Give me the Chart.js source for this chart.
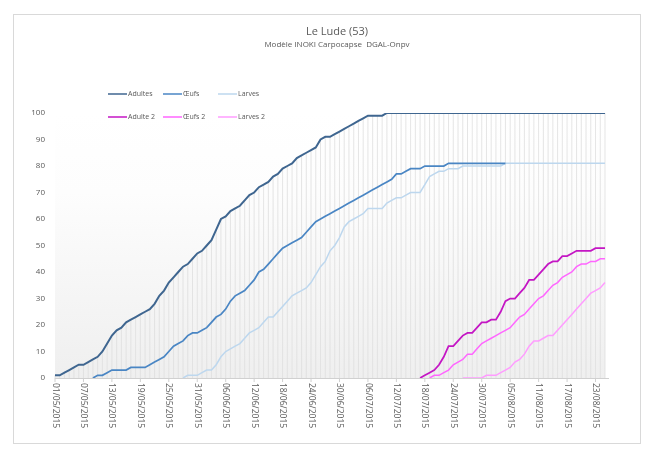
<!DOCTYPE html>
<html>
<head>
<meta charset="utf-8">
<script src="https://cdn.jsdelivr.net/npm/chart.js@4"></script>
<style>
  html, body { margin: 0; padding: 0; background: #fff; }
  #wrap { width: 654px; height: 451px; }
</style>
</head>
<body>
<div id="wrap"><canvas id="ludeChart" width="654" height="451"></canvas></div>
<script>
// days from 01/05/2015 to 25/08/2015
const categories = [];
for (let d = new Date(2015, 4, 1); d <= new Date(2015, 7, 25); d.setDate(d.getDate() + 1)) {
  const dd = String(d.getDate()).padStart(2, '0');
  const mm = String(d.getMonth() + 1).padStart(2, '0');
  categories.push(dd + '/' + mm + '/2015');
}
const labelEvery = 6;

const seriesNames = ["Adultes", "Œufs", "Larves", "Adulte 2", "Œufs 2", "Larves 2"];
const seriesColors = ["#3f6690", "#4a86c4", "#bdd7ee", "#c416c4", "#ff66ff", "#ff9cff"];
const seriesWidths = [2, 1.75, 1.5, 1.75, 1.5, 1.5];

// start index (day) of every series
const adultesStart = 0;
const adultes = [1, 1, 2, 3, 4, 5, 5, 6, 7, 8,
  10, 13, 16, 18, 19, 21, 22, 23, 24, 25,
  26, 28, 31, 33, 36, 38, 40, 42, 43, 45,
  47, 48, 50, 52, 56, 60, 61, 63, 64, 65,
  67, 69, 70, 72, 73, 74, 76, 77, 79, 80,
  81, 83, 84, 85, 86, 87, 90, 91, 91, 92,
  93, 94, 95, 96, 97, 98, 99, 99, 99, 99,
  100, 100, 100, 100, 100, 100, 100, 100, 100, 100,
  100, 100, 100, 100, 100, 100, 100, 100, 100, 100,
  100, 100, 100, 100, 100, 100, 100, 100, 100, 100,
  100, 100, 100, 100, 100, 100, 100, 100, 100, 100,
  100, 100, 100, 100, 100, 100, 100];

const oeufsStart = 8;
const oeufs = [0, 1, 1, 2, 3, 3, 3, 3, 4, 4, 4, 4,
  5, 6, 7, 8, 10, 12, 13, 14, 16, 17,
  17, 18, 19, 21, 23, 24, 26, 29, 31, 32,
  33, 35, 37, 40, 41, 43, 45, 47, 49, 50,
  51, 52, 53, 55, 57, 59, 60, 61, 62, 63,
  64, 65, 66, 67, 68, 69, 70, 71, 72, 73,
  74, 75, 77, 77, 78, 79, 79, 79, 80, 80,
  80, 80, 80, 81, 81, 81, 81, 81, 81, 81,
  81, 81, 81, 81, 81, 81];

const larvesStart = 27;
const larves = [0, 1, 1,
  1, 2, 3, 3, 5, 8, 10, 11, 12, 13,
  15, 17, 18, 19, 21, 23, 23, 25, 27, 29,
  31, 32, 33, 34, 36, 39, 42, 44, 48, 50,
  53, 57, 59, 60, 61, 62, 64, 64, 64, 64,
  66, 67, 68, 68, 69, 70, 70, 70, 73, 76,
  77, 78, 78, 79, 79, 79, 80, 80, 80, 80,
  80, 80, 80, 80, 80, 81, 81, 81, 81, 81,
  81, 81, 81, 81, 81, 81, 81, 81, 81, 81,
  81, 81, 81, 81, 81, 81, 81];

const adulte2Start = 77;
const adulte2 = [0, 1, 2,
  3, 5, 8, 12, 12, 14, 16, 17, 17, 19,
  21, 21, 22, 22, 25, 29, 30, 30, 32, 34,
  37, 37, 39, 41, 43, 44, 44, 46, 46, 47,
  48, 48, 48, 48, 49, 49, 49];

const oeufs2Start = 79;
const oeufs2 = [0,
  1, 1, 2, 3, 5, 6, 7, 9, 9, 11,
  13, 14, 15, 16, 17, 18, 19, 21, 23, 24,
  26, 28, 30, 31, 33, 35, 36, 38, 39, 40,
  42, 43, 43, 44, 44, 45, 45];

const larves2Start = 86;
const larves2 = [0, 0, 0, 0,
  0, 1, 1, 1, 2, 3, 4, 6, 7, 9,
  12, 14, 14, 15, 16, 16, 18, 20, 22, 24,
  26, 28, 30, 32, 33, 34, 36];

function pad(start, values) {
  const out = new Array(categories.length).fill(null);
  values.forEach((v, i) => { out[start + i] = v; });
  return out;
}

const seriesData = [
  pad(adultesStart, adultes),
  pad(oeufsStart, oeufs),
  pad(larvesStart, larves),
  pad(adulte2Start, adulte2),
  pad(oeufs2Start, oeufs2),
  pad(larves2Start, larves2)
];

const textColor = '#595959';

const decor = {
  id: 'decor',
  beforeDraw(chart) {
    const {ctx, chartArea: a} = chart;
    ctx.save();
    ctx.fillStyle = '#fff';
    ctx.fillRect(0, 0, chart.width, chart.height);
    ctx.strokeStyle = '#d9d9d9';
    ctx.lineWidth = 1;
    ctx.strokeRect(13.5, 14.5, 627, 429);
    const g = ctx.createLinearGradient(0, a.top, 0, a.bottom);
    g.addColorStop(0, '#ffffff');
    g.addColorStop(0.3, '#fdfdfd');
    g.addColorStop(1, '#efefef');
    ctx.fillStyle = g;
    ctx.fillRect(a.left, a.top - 8, a.right - a.left, a.bottom - a.top + 8);
    ctx.restore();
  },
  beforeDatasetsDraw(chart) {
    // drop lines from the highest series down to the axis
    const {ctx, scales: {x, y}} = chart;
    ctx.save();
    ctx.strokeStyle = '#dedede';
    ctx.lineWidth = 0.8;
    categories.forEach((c, i) => {
      const vals = seriesData.map(s => s[i]).filter(v => v !== null);
      if (!vals.length) return;
      const px = x.getPixelForValue(i);
      ctx.beginPath();
      ctx.moveTo(px, y.getPixelForValue(Math.max(...vals)));
      ctx.lineTo(px, y.getPixelForValue(0));
      ctx.stroke();
    });
    ctx.restore();
  },
  afterDraw(chart) {
    const {ctx, chartArea: a, scales: {x}} = chart;
    ctx.save();
    // axis line
    ctx.strokeStyle = '#d0d0d0';
    ctx.lineWidth = 1;
    ctx.beginPath();
    ctx.moveTo(a.left, a.bottom + 0.5);
    ctx.lineTo(a.right + 4, a.bottom + 0.5);
    ctx.stroke();
    // date labels, rotated clockwise
    ctx.fillStyle = textColor;
    ctx.font = '8.5px "Open Sans"';
    ctx.textAlign = 'left';
    ctx.textBaseline = 'middle';
    categories.forEach((c, i) => {
      if (i % labelEvery) return;
      const px = x.getPixelForValue(i);
      ctx.beginPath();
      ctx.moveTo(px, a.bottom);
      ctx.lineTo(px, a.bottom + 4);
      ctx.stroke();
      ctx.save();
      ctx.translate(px, a.bottom + 5);
      ctx.rotate(Math.PI / 2);
      ctx.fillText(c, 0, 0);
      ctx.restore();
    });
    // titles
    ctx.textAlign = 'center';
    ctx.font = '11px "Open Sans"';
    ctx.fillText('Le Lude (53)', 337, 32);
    ctx.font = '8px "Open Sans"';
    ctx.fillText('Modèle INOKI Carpocapse  DGAL-Onpv', 337, 45);
    // legend, two rows of three
    ctx.font = '7px "Open Sans"';
    ctx.textAlign = 'left';
    const cols = [108, 163, 218];
    const rows = [94, 117];
    seriesNames.forEach((name, i) => {
      const lx = cols[i % 3], ly = rows[Math.floor(i / 3)];
      ctx.strokeStyle = seriesColors[i];
      ctx.lineWidth = 1.5;
      ctx.beginPath();
      ctx.moveTo(lx, ly);
      ctx.lineTo(lx + 19, ly);
      ctx.stroke();
      ctx.fillStyle = textColor;
      ctx.fillText(name, lx + 20, ly);
    });
    ctx.restore();
  }
};

new Chart('ludeChart', {
  type: 'line',
  data: {
    labels: categories,
    datasets: seriesNames.map((name, i) => ({
      label: name,
      data: seriesData[i],
      borderColor: seriesColors[i],
      backgroundColor: seriesColors[i],
      borderWidth: seriesWidths[i],
      pointRadius: 0,
      tension: 0,
      spanGaps: false
    }))
  },
  options: {
    responsive: false,
    animation: false,
    layout: { padding: { top: 113, right: 49, left: 15, bottom: 0 } },
    plugins: { legend: { display: false }, title: { display: false }, tooltip: { enabled: false } },
    scales: {
      x: {
        offset: false,
        grid: { display: false },
        border: { display: false },
        ticks: { display: false },
        afterFit(scale) { scale.height = 73; }
      },
      y: {
        min: 0,
        max: 100,
        grid: { display: false },
        border: { display: false },
        ticks: { stepSize: 10, color: textColor, font: { family: 'Open Sans', size: 8 }, padding: 2 },
        afterFit(scale) { scale.width = 40; }
      }
    }
  },
  plugins: [decor]
});
</script>
</body>
</html>
